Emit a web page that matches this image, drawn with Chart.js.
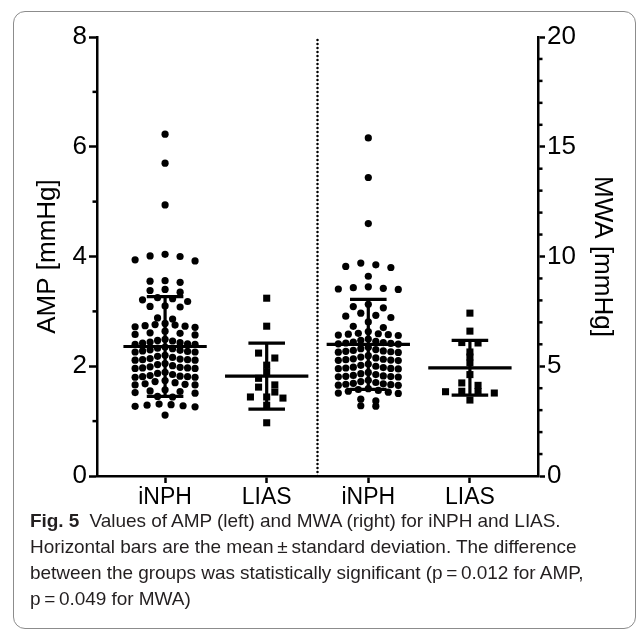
<!DOCTYPE html>
<html lang="en">

<head>
  <meta charset="UTF-8">
  <title>Fig. 5 AMP / MWA</title>
  <style>
    html,
    body {
      margin: 0;
      padding: 0;
      background: #fff;
    }

    #wrap {
      position: relative;
      width: 637px;
      height: 632px;
      overflow: hidden;
    }

    .fig-frame {
      position: absolute;
      left: 13px;
      top: 11px;
      width: 623px;
      height: 618px;
      box-sizing: border-box;
      border: 1.5px solid #8c8c8c;
      border-radius: 12px;
    }

    #chartFig5 {
      position: absolute;
      left: 0;
      top: 0;
    }

    .fig-caption {
      position: absolute;
      left: 30px;
      top: 508px;
      margin: 0;
      font-family: 'Liberation Sans', Arial, sans-serif;
      font-size: 19px;
      line-height: 26px;
      color: #231f20;
      white-space: nowrap;
      letter-spacing: -0.05px;
    }

    .fig-caption b {
      margin-right: 5px;
    }
  </style>
</head>

<body>
  <div id="wrap">
    <div class="fig-frame"></div>
    <canvas id="chartFig5" width="637" height="510"></canvas>
    <p class="fig-caption">
      <b>Fig. 5</b> Values of AMP (left) and MWA (right) for iNPH and LIAS.<br>
      Horizontal bars are the mean&thinsp;±&thinsp;standard deviation. The difference<br>
      between the groups was statistically significant (p&thinsp;=&thinsp;0.012 for AMP,<br>
      p&thinsp;=&thinsp;0.049 for MWA)
    </p>
  </div>

  <script src="https://cdn.jsdelivr.net/npm/chart.js"></script>
  <script>
    // groups on the x axis
    const groupNames = ['iNPH', 'LIAS', 'iNPH', 'LIAS'];

    // AMP [mmHg] (left axis)
    const ampINPH = [
      6.23, 5.70, 4.94,
      4.04, 4.01, 4.00, 3.94, 3.92,
      3.56, 3.55, 3.53,
      3.40, 3.38, 3.35,
      3.25, 3.23, 3.21, 3.18,
      3.10, 3.08, 3.09,
      2.88, 2.86,
      2.78, 2.76, 2.75, 2.74, 2.73, 2.72, 2.71,
      2.64, 2.61, 2.60, 2.58, 2.57,
      2.49, 2.47, 2.46, 2.44, 2.43, 2.42, 2.41, 2.40, 2.40,
      2.35, 2.33, 2.32, 2.30, 2.29, 2.28, 2.27, 2.26, 2.26,
      2.20, 2.18, 2.16, 2.14, 2.13, 2.12, 2.12, 2.11, 2.11,
      2.05, 2.03, 2.01, 1.99, 1.98, 1.97, 1.97, 1.96, 1.96,
      1.89, 1.87, 1.85, 1.83, 1.82, 1.81, 1.81, 1.80, 1.80,
      1.74, 1.72, 1.70, 1.68, 1.67, 1.66, 1.66,
      1.57, 1.55, 1.54, 1.52, 1.51,
      1.45, 1.44,
      1.31, 1.30, 1.29, 1.28, 1.27, 1.26,
      1.11
    ];
    const ampLIAS = [3.24, 2.73, 2.24, 2.15, 2.02, 1.90, 1.78, 1.66, 1.62, 1.53, 1.44, 1.44, 1.42, 1.29, 0.97];

    // MWA [mmHg] (right axis)
    const mwaINPH = [
      15.4, 13.6, 11.5,
      9.70, 9.62, 9.55, 9.50,
      9.10,
      8.62, 8.58, 8.55, 8.52, 8.50,
      7.82, 7.72, 7.66,
      7.42, 7.32, 7.28, 7.22,
      7.02, 6.82, 6.76,
      6.58, 6.50, 6.48, 6.46, 6.44, 6.42, 6.40,
      6.24, 6.18, 6.14, 6.10, 6.08, 6.06, 6.04, 6.02, 6.01,
      5.86, 5.80, 5.76, 5.72, 5.70, 5.68, 5.66, 5.64, 5.63,
      5.48, 5.42, 5.38, 5.34, 5.32, 5.30, 5.28, 5.27, 5.26,
      5.10, 5.04, 5.00, 4.96, 4.94, 4.92, 4.90, 4.89, 4.88,
      4.72, 4.66, 4.62, 4.58, 4.56, 4.54, 4.53, 4.52, 4.51,
      4.36, 4.30, 4.26, 4.22, 4.20, 4.18, 4.16, 4.14, 4.13,
      3.98, 3.94, 3.90, 3.86, 3.82, 3.78, 3.76,
      3.50, 3.42,
      3.20, 3.18
    ];
    const mwaLIAS = [7.42, 6.60, 6.08, 6.06, 5.65, 5.42, 5.15, 4.62, 4.24, 4.13, 3.86, 3.85, 3.84, 3.78, 3.46];

    // mean ± SD bars (AMP iNPH, AMP LIAS, MWA iNPH, MWA LIAS)
    const meanValues = [2.36, 1.82, 6.00, 4.93];
    const sdValues = [0.91, 0.60, 2.05, 1.25];

    // axis ticks
    const ampTicks = [0, 2, 4, 6, 8];
    const mwaTicks = [0, 5, 10, 15, 20];

    Chart.defaults.font.family = "'Liberation Sans', Arial, sans-serif";
    Chart.defaults.color = '#000';

    // prism style scatter: values binned in rows, highest in the middle,
    // sparse rows use a wide step, full rows squeeze into maxSpan
    function swarm(values, xCenter, binSize, maxStep, maxSpan) {
      const sorted = values.slice().sort((a, b) => b - a);
      const rows = {};
      sorted.forEach(v => {
        const k = Math.floor(v / binSize + 1e-6);
        (rows[k] = rows[k] || []).push(v);
      });
      const pts = [];
      Object.values(rows).forEach(row => {
        const n = row.length;
        const step = n > 1 ? Math.min(maxStep, maxSpan / (n - 1)) : 0;
        const slots = [];
        if (n % 2) {
          slots.push(0);
          for (let i = 1; slots.length < n; i++) {
            slots.push(-i);
            if (slots.length < n) slots.push(i);
          }
        } else {
          for (let i = 0.5; slots.length < n; i++) {
            slots.push(-i);
            slots.push(i);
          }
        }
        row.forEach((v, i) => pts.push({ x: xCenter + slots[i] * step, y: v }));
      });
      return pts;
    }

    // mean bar, SD caps and SD whisker for one group
    function meanSd(idx) {
      const x = idx + 1, m = meanValues[idx], sd = sdValues[idx];
      return [
        { x: x - 0.41, y: m }, { x: x + 0.41, y: m }, { x: x, y: null },
        { x: x - 0.18, y: m + sd }, { x: x + 0.18, y: m + sd }, { x: x, y: null },
        { x: x - 0.18, y: m - sd }, { x: x + 0.18, y: m - sd }, { x: x, y: null },
        { x: x, y: m - sd }, { x: x, y: m + sd }
      ];
    }

    // short minor ticks between labelled ones
    const minorTicks = {
      id: 'minorTicks',
      afterDraw(chart) {
        const ctx = chart.ctx;
        ctx.save();
        ctx.strokeStyle = '#000';
        ctx.lineWidth = 2.5;
        [['y', 1, -1], ['y2', 1, 1]].forEach(([id, step, dir]) => {
          const s = chart.scales[id];
          const edge = dir < 0 ? s.right : s.left;
          for (let v = s.min; v <= s.max; v += step) {
            if (s.ticks.some(t => t.value === v)) continue;
            const y = s.getPixelForValue(v);
            ctx.beginPath();
            ctx.moveTo(edge, y);
            ctx.lineTo(edge + dir * 4.5, y);
            ctx.stroke();
          }
        });
        ctx.restore();
      }
    };

    const tickFont = { size: 26 };
    const dots = { backgroundColor: '#000', borderWidth: 0, pointRadius: 3.6, pointHoverRadius: 3.6, order: 2 };
    const squares = { backgroundColor: '#000', borderWidth: 0, pointStyle: 'rect', pointRadius: 5, pointHoverRadius: 5, order: 2 };
    const bars = { showLine: true, borderColor: '#000', borderWidth: 3.2, pointRadius: 0, spanGaps: false, order: 1 };

    const ctx = document.getElementById('chartFig5');
    new Chart(ctx, {
      type: 'scatter',
      plugins: [minorTicks],
      data: {
        datasets: [
          Object.assign({ data: swarm(ampINPH, 1, 0.15, 0.148, 0.59), yAxisID: 'y' }, dots),
          Object.assign({ data: swarm(ampLIAS, 2, 0.15, 0.16, 0.59), yAxisID: 'y' }, squares),
          Object.assign({ data: swarm(mwaINPH, 3, 0.375, 0.148, 0.59), yAxisID: 'y2' }, dots),
          Object.assign({ data: swarm(mwaLIAS, 4, 0.375, 0.16, 0.59), yAxisID: 'y2' }, squares),
          Object.assign({ data: meanSd(0).concat([{ x: 1, y: null }], meanSd(1)), yAxisID: 'y' }, bars),
          Object.assign({ data: meanSd(2).concat([{ x: 3, y: null }], meanSd(3)), yAxisID: 'y2' }, bars),
          {
            // dotted divider between AMP and MWA
            data: [{ x: 2.5, y: 0 }, { x: 2.5, y: 8 }],
            yAxisID: 'y',
            showLine: true,
            pointRadius: 0,
            borderColor: '#000',
            borderWidth: 2.5,
            borderDash: [0, 4],
            borderCapStyle: 'round',
            order: 3
          }
        ]
      },
      options: {
        responsive: false,
        animation: false,
        layout: { padding: { left: 13, right: 0, top: 37, bottom: 0 } },
        plugins: {
          legend: { display: false },
          tooltip: { enabled: false }
        },
        scales: {
          x: {
            type: 'linear',
            min: 0.33,
            max: 4.67,
            afterBuildTicks: s => { s.ticks = groupNames.map((_, i) => ({ value: i + 1 })); },
            afterFit: s => { s.height = 34; },
            ticks: {
              autoSkip: false,
              maxRotation: 0,
              padding: 1,
              font: { size: 23 },
              callback: v => groupNames[Math.round(v) - 1]
            },
            grid: { drawOnChartArea: false, tickLength: 7, tickWidth: 2.5, tickColor: '#000' },
            border: { color: '#000', width: 2.5 }
          },
          y: {
            position: 'left',
            min: 0,
            max: 8,
            afterBuildTicks: s => { s.ticks = ampTicks.map(v => ({ value: v })); },
            afterFit: s => { s.width = 84; },
            ticks: { font: tickFont, padding: 2 },
            grid: { drawOnChartArea: false, tickLength: 8, tickWidth: 2.5, tickColor: '#000' },
            border: { color: '#000', width: 2.5 },
            title: { display: true, text: 'AMP [mmHg]', font: { size: 26 }, padding: { top: 19, bottom: 0 } }
          },
          y2: {
            position: 'right',
            min: 0,
            max: 20,
            afterBuildTicks: s => { s.ticks = mwaTicks.map(v => ({ value: v })); },
            afterFit: s => { s.width = 99; },
            ticks: { font: tickFont, padding: 2 },
            grid: { drawOnChartArea: false, tickLength: 7, tickWidth: 2.5, tickColor: '#000' },
            border: { color: '#000', width: 2.5 },
            title: { display: true, text: 'MWA [mmHg]', font: { size: 26 }, padding: { top: 19, bottom: 0 } }
          }
        }
      }
    });
  </script>
</body>

</html>
